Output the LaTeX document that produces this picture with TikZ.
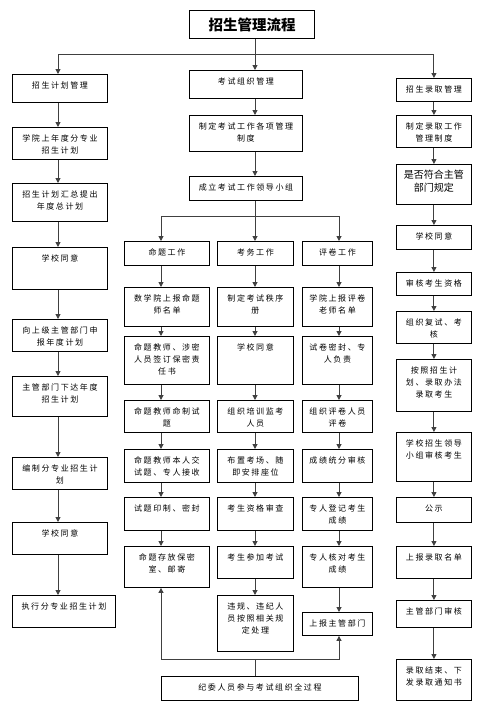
\documentclass[tikz,border=0pt]{standalone}
\usepackage{fontspec}
\usetikzlibrary{arrows.meta}
\newfontfamily\cjk[LetterSpace=20]{Noto Sans CJK SC}
\newfontfamily\cjkplain{Noto Sans CJK SC}
\newcommand{\boxtext}[3]{\parbox[t][#2][t]{#1}{\centering\rule{0pt}{14pt}#3}}
\tikzset{
    box/.style={draw, line width=0.9pt, inner sep=0pt, anchor=north west,
                font=\cjk\fontsize{8}{12}\selectfont},
    heading/.style={draw, line width=1pt, inner sep=0pt, anchor=north west,
                    minimum width=125pt, minimum height=28pt,
                    font=\cjkplain\bfseries\fontsize{14.5}{16}\selectfont},
    link/.style={line width=1pt, draw=black!75},
    flow/.style={link, -{Triangle[length=5pt,width=5pt]}},
}

\begin{document}
\begin{tikzpicture}[x=1pt, y=-1pt]
    \useasboundingbox (0,0) rectangle (482,705);

    \node[heading] (title) at (189,10) {招生管理流程};

    % lines the arrows run on
    \coordinate (colL) at (58,0);
    \coordinate (colM) at (255,0);
    \coordinate (colA) at (161,0);
    \coordinate (colB) at (255,0);
    \coordinate (colC) at (339,0);
    \coordinate (split) at (255,54);
    \coordinate (fork) at (255,216);
    \coordinate (merge) at (255,659);

    % enrolment plan
    \node[box] (plan1) at (12,74)  {\boxtext{95pt}{28pt}{招生计划管理}};
    \node[box] (plan2) at (12,127) {\boxtext{95pt}{32pt}{学院上年度分专业\\招生计划}};
    \node[box] (plan3) at (12,183) {\boxtext{95pt}{38pt}{招生计划汇总提出\\年度总计划}};
    \node[box] (plan4) at (12,247) {\boxtext{95pt}{42pt}{学校同意}};
    \node[box] (plan5) at (12,319) {\boxtext{95pt}{32pt}{向上级主管部门申\\报年度计划}};
    \node[box] (plan6) at (12,376) {\boxtext{95pt}{40pt}{主管部门下达年度\\招生计划}};
    \node[box] (plan7) at (12,457) {\boxtext{95pt}{32pt}{编制分专业招生计\\划}};
    \node[box] (plan8) at (12,522) {\boxtext{95pt}{32pt}{学校同意}};
    \node[box] (plan9) at (12,595) {\boxtext{103pt}{32pt}{执行分专业招生计划}};

    % examination
    \node[box] (exam1) at (189,70)  {\boxtext{113pt}{28pt}{考试组织管理}};
    \node[box] (exam2) at (189,115) {\boxtext{113pt}{36pt}{制定考试工作各项管理\\制度}};
    \node[box] (exam3) at (189,176) {\boxtext{113pt}{24pt}{成立考试工作领导小组}};

    \node[box] (set0) at (124,241) {\boxtext{85pt}{24pt}{命题工作}};
    \node[box] (set1) at (124,287) {\boxtext{85pt}{39pt}{数学院上报命题\\师名单}};
    \node[box] (set2) at (124,336) {\boxtext{85pt}{48pt}{命题教师、涉密\\人员签订保密责\\任书}};
    \node[box] (set3) at (124,400) {\boxtext{85pt}{32pt}{命题教师命制试\\题}};
    \node[box] (set4) at (124,449) {\boxtext{85pt}{33pt}{命题教师本人交\\试题、专人接收}};
    \node[box] (set5) at (124,497) {\boxtext{85pt}{33pt}{试题印制、密封}};
    \node[box] (set6) at (124,546) {\boxtext{85pt}{41pt}{命题存放保密\\室、邮寄}};

    \node[box] (affair0) at (217,241) {\boxtext{76pt}{24pt}{考务工作}};
    \node[box] (affair1) at (217,287) {\boxtext{76pt}{39pt}{制定考试秩序\\册}};
    \node[box] (affair2) at (217,336) {\boxtext{76pt}{48pt}{学校同意}};
    \node[box] (affair3) at (217,400) {\boxtext{76pt}{32pt}{组织培训监考\\人员}};
    \node[box] (affair4) at (217,449) {\boxtext{76pt}{33pt}{布置考场、随\\即安排座位}};
    \node[box] (affair5) at (217,497) {\boxtext{76pt}{33pt}{考生资格审查}};
    \node[box] (affair6) at (217,546) {\boxtext{76pt}{32pt}{考生参加考试}};
    \node[box] (affair7) at (217,595) {\boxtext{76pt}{56pt}{违规、违纪人\\员按照相关规\\定处理}};

    \node[box] (mark0) at (302,241) {\boxtext{70pt}{24pt}{评卷工作}};
    \node[box] (mark1) at (302,287) {\boxtext{70pt}{39pt}{学院上报评卷\\老师名单}};
    \node[box] (mark2) at (302,336) {\boxtext{70pt}{48pt}{试卷密封、专\\人负责}};
    \node[box] (mark3) at (302,400) {\boxtext{70pt}{32pt}{组织评卷人员\\评卷}};
    \node[box] (mark4) at (302,449) {\boxtext{70pt}{33pt}{成绩统分审核}};
    \node[box] (mark5) at (302,497) {\boxtext{70pt}{33pt}{专人登记考生\\成绩}};
    \node[box] (mark6) at (302,546) {\boxtext{70pt}{41pt}{专人核对考生\\成绩}};
    \node[box] (mark7) at (302,612) {\boxtext{70pt}{23pt}{上报主管部门}};

    \node[box] (jiwei) at (161,676) {\boxtext{197pt}{24pt}{纪委人员参与考试组织全过程}};

    % admission
    \node[box] (rec1)  at (396,78)  {\boxtext{75pt}{23pt}{招生录取管理}};
    \node[box] (rec2)  at (396,115) {\boxtext{75pt}{32pt}{制定录取工作\\管理制度}};
    \node[box] (rec3)  at (396,164) {\boxtext{75pt}{40pt}{\cjkplain\fontsize{10}{13}\selectfont 是否符合主管\\部门规定}};
    \node[box] (rec4)  at (396,225) {\boxtext{75pt}{24pt}{学校同意}};
    \node[box] (rec5)  at (396,272) {\boxtext{75pt}{23pt}{审核考生资格}};
    \node[box] (rec6)  at (396,311) {\boxtext{75pt}{32pt}{组织复试、考\\核}};
    \node[box] (rec7)  at (396,359) {\boxtext{75pt}{52pt}{按照招生计\\划、录取办法\\录取考生}};
    \node[box] (rec8)  at (396,432) {\boxtext{75pt}{49pt}{学校招生领导\\小组审核考生}};
    \node[box] (rec9)  at (396,497) {\boxtext{75pt}{25pt}{公示}};
    \node[box] (rec10) at (396,546) {\boxtext{75pt}{32pt}{上报录取名单}};
    \node[box] (rec11) at (396,600) {\boxtext{75pt}{27pt}{主管部门审核}};
    \node[box] (rec12) at (396,659) {\boxtext{75pt}{41pt}{录取结束、下\\发录取通知书}};

    % top split
    \draw[link] (split |- title.south) -- (split);
    \draw[flow] (split) -| (colL |- plan1.north);
    \draw[flow] (split) -- (colM |- exam1.north);
    \draw[flow] (split) -| (rec1.north);

    \foreach \a/\b in {plan1/plan2, plan2/plan3, plan3/plan4, plan4/plan5,
                       plan5/plan6, plan6/plan7, plan7/plan8, plan8/plan9}
        \draw[flow] (colL |- \a.south) -- (colL |- \b.north);

    \foreach \a/\b in {exam1/exam2, exam2/exam3}
        \draw[flow] (colM |- \a.south) -- (colM |- \b.north);

    % three working groups
    \draw[link] (colM |- exam3.south) -- (fork);
    \draw[flow] (fork) -| (colA |- set0.north);
    \draw[flow] (fork) -- (colB |- affair0.north);
    \draw[flow] (fork) -| (colC |- mark0.north);

    \foreach \n [evaluate=\n as \m using int(\n+1)] in {0,...,5}
        \draw[flow] (colA |- set\n.south) -- (colA |- set\m.north);
    \foreach \n [evaluate=\n as \m using int(\n+1)] in {0,...,6}
        \draw[flow] (colB |- affair\n.south) -- (colB |- affair\m.north);
    \foreach \n [evaluate=\n as \m using int(\n+1)] in {0,...,6}
        \draw[flow] (colC |- mark\n.south) -- (colC |- mark\m.north);

    % supervision
    \draw[link] (colB |- jiwei.north) -- (merge);
    \draw[flow] (merge) -| (colA |- set6.south);
    \draw[flow] (merge) -| (colC |- mark7.south);

    \foreach \n [evaluate=\n as \m using int(\n+1)] in {1,...,11}
        \draw[flow] (rec\n.south) -- (rec\m.north);

\end{tikzpicture}
\end{document}
